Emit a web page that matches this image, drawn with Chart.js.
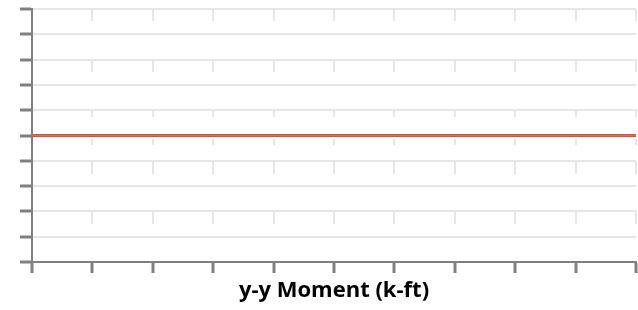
<!DOCTYPE html>
<html>
<head>
<meta charset="utf-8">
<script src="https://cdn.jsdelivr.net/npm/chart.js@4/dist/chart.umd.min.js"></script>
<style>
  html, body { margin: 0; padding: 0; background: #ffffff; }
  #wrap { width: 638px; height: 310px; position: relative; }
</style>
</head>
<body>
<div id="wrap"><canvas id="c" width="638" height="310"></canvas></div>
<script>
// ---- data ----
const xTitle = "y-y Moment (k-ft)";
const xPoints = [0, 10];
const seriesRed = [0, 0];
const seriesGreen = [0, 0];
const xRange = [0, 10];
const yRange = [-5, 5];

const toXY = (ys) => xPoints.map((x, i) => ({ x: x, y: ys[i] }));

new Chart(document.getElementById('c'), {
  type: 'scatter',
  data: {
    datasets: [
      {
        data: toXY(seriesRed),
        showLine: true,
        borderColor: '#b8604e',
        borderWidth: 3,
        pointRadius: 0,
        order: 2
      },
      {
        data: toXY(seriesGreen),
        showLine: true,
        borderColor: '#a08a68',
        borderWidth: 1,
        pointRadius: 0,
        order: 1
      }
    ]
  },
  options: {
    responsive: false,
    animation: false,
    layout: { padding: { top: 9, right: 2, left: 0, bottom: 0 } },
    plugins: { legend: { display: false }, tooltip: { enabled: false } },
    scales: {
      x: {
        type: 'linear',
        min: xRange[0],
        max: xRange[1],
        ticks: { stepSize: 1, display: false },
        grid: {
          color: '#e6e6e6',
          lineWidth: 2,
          drawTicks: true,
          tickLength: 11,
          tickColor: '#808080',
          tickWidth: 3
        },
        border: {
          display: true,
          color: '#808080',
          width: 2,
          dash: [12, 38, 13, 37, 8, 22, 6, 16, 13, 37, 13, 60]
        },
        title: {
          display: true,
          text: xTitle,
          color: '#000000',
          font: { family: 'Open Sans', size: 22, weight: 'bold', lineHeight: 1.2 },
          padding: { top: 0, bottom: 6 }
        },
        afterFit: (s) => { s.height = 48; }
      },
      y: {
        type: 'linear',
        min: yRange[0],
        max: yRange[1],
        ticks: { stepSize: 1, display: false },
        grid: {
          color: '#e6e6e6',
          lineWidth: 2,
          drawTicks: true,
          tickLength: 12,
          tickColor: '#808080',
          tickWidth: 3
        },
        border: { display: true, color: '#808080', width: 2 },
        afterFit: (s) => { s.width = 32; }
      }
    }
  }
});
</script>
</body>
</html>
